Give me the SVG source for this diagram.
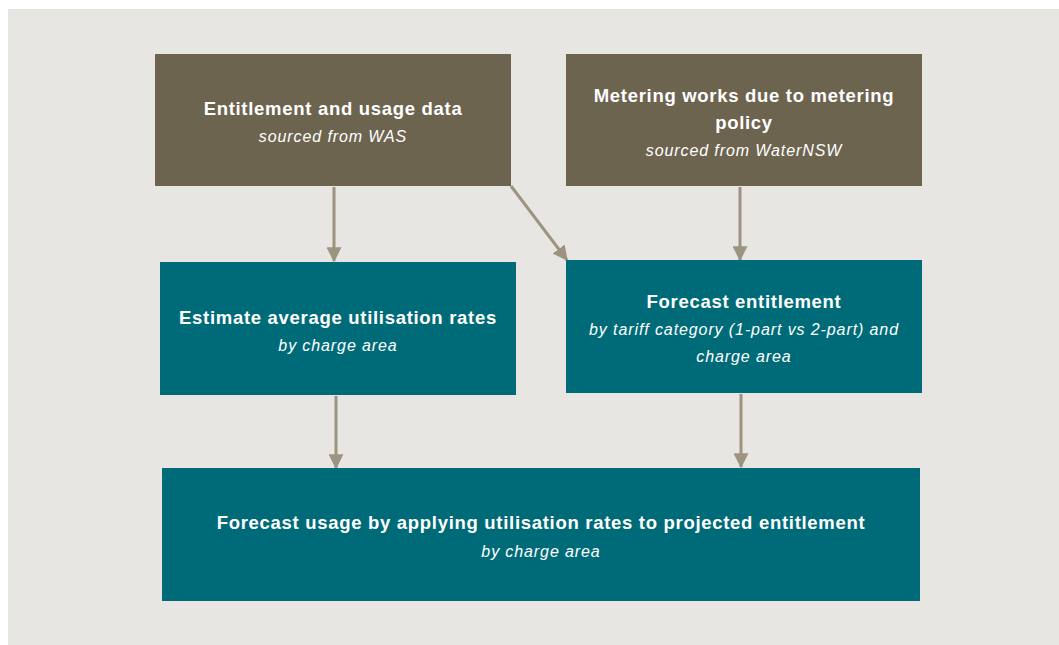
<svg xmlns="http://www.w3.org/2000/svg" width="1059" height="645" viewBox="0 0 1059 645">
  <style>
    .src { fill: #6D6450; }
    .step { fill: #006B78; }
    .title { font-family: "Liberation Sans", Arial, sans-serif; font-weight: bold; font-size: 18.5px; letter-spacing: 0.7px; fill: #FFFFFF; text-anchor: middle; }
    .sub { font-family: "Liberation Sans", Arial, sans-serif; font-style: italic; font-size: 16px; letter-spacing: 0.9px; fill: #FFFFFF; text-anchor: middle; }
    .conn { stroke: #9C9480; stroke-width: 3; fill: none; }
  </style>
  <defs>
    <marker id="arrow" markerWidth="5" markerHeight="5" refX="4.6" refY="2.5" orient="auto" markerUnits="strokeWidth">
      <path d="M0,0 L5,2.5 L0,5 Z" fill="#9C9480"/>
    </marker>
  </defs>

  <rect x="0" y="0" width="1059" height="645" fill="#FFFFFF"/>
  <rect x="8" y="9" width="1051" height="636" fill="#E8E6E2"/>

  <g id="connectors">
    <line class="conn" x1="334" y1="187" x2="334" y2="261" marker-end="url(#arrow)"/>
    <line class="conn" x1="511" y1="186" x2="567" y2="260" marker-end="url(#arrow)"/>
    <line class="conn" x1="740" y1="187" x2="740" y2="260" marker-end="url(#arrow)"/>
    <line class="conn" x1="336" y1="396" x2="336" y2="468" marker-end="url(#arrow)"/>
    <line class="conn" x1="741" y1="394" x2="741" y2="467" marker-end="url(#arrow)"/>
  </g>

  <g id="entitlement-data">
    <rect class="src" x="155" y="54" width="356" height="132"/>
    <text class="title" x="333" y="115">Entitlement and usage data</text>
    <text class="sub" x="333" y="142">sourced from WAS</text>
  </g>

  <g id="metering-works">
    <rect class="src" x="566" y="54" width="356" height="132"/>
    <text class="title" x="744" y="102">Metering works due to metering</text>
    <text class="title" x="744" y="129">policy</text>
    <text class="sub" x="744" y="156">sourced from WaterNSW</text>
  </g>

  <g id="utilisation-rates">
    <rect class="step" x="160" y="262" width="356" height="133"/>
    <text class="title" x="338" y="324">Estimate average utilisation rates</text>
    <text class="sub" x="338" y="351">by charge area</text>
  </g>

  <g id="forecast-entitlement">
    <rect class="step" x="566" y="260" width="356" height="133"/>
    <text class="title" x="744" y="308">Forecast entitlement</text>
    <text class="sub" x="744" y="335">by tariff category (1-part vs 2-part) and</text>
    <text class="sub" x="744" y="362">charge area</text>
  </g>

  <g id="forecast-usage">
    <rect class="step" x="162" y="468" width="758" height="133"/>
    <text class="title" x="541" y="529">Forecast usage by applying utilisation rates to projected entitlement</text>
    <text class="sub" x="541" y="557">by charge area</text>
  </g>
</svg>
